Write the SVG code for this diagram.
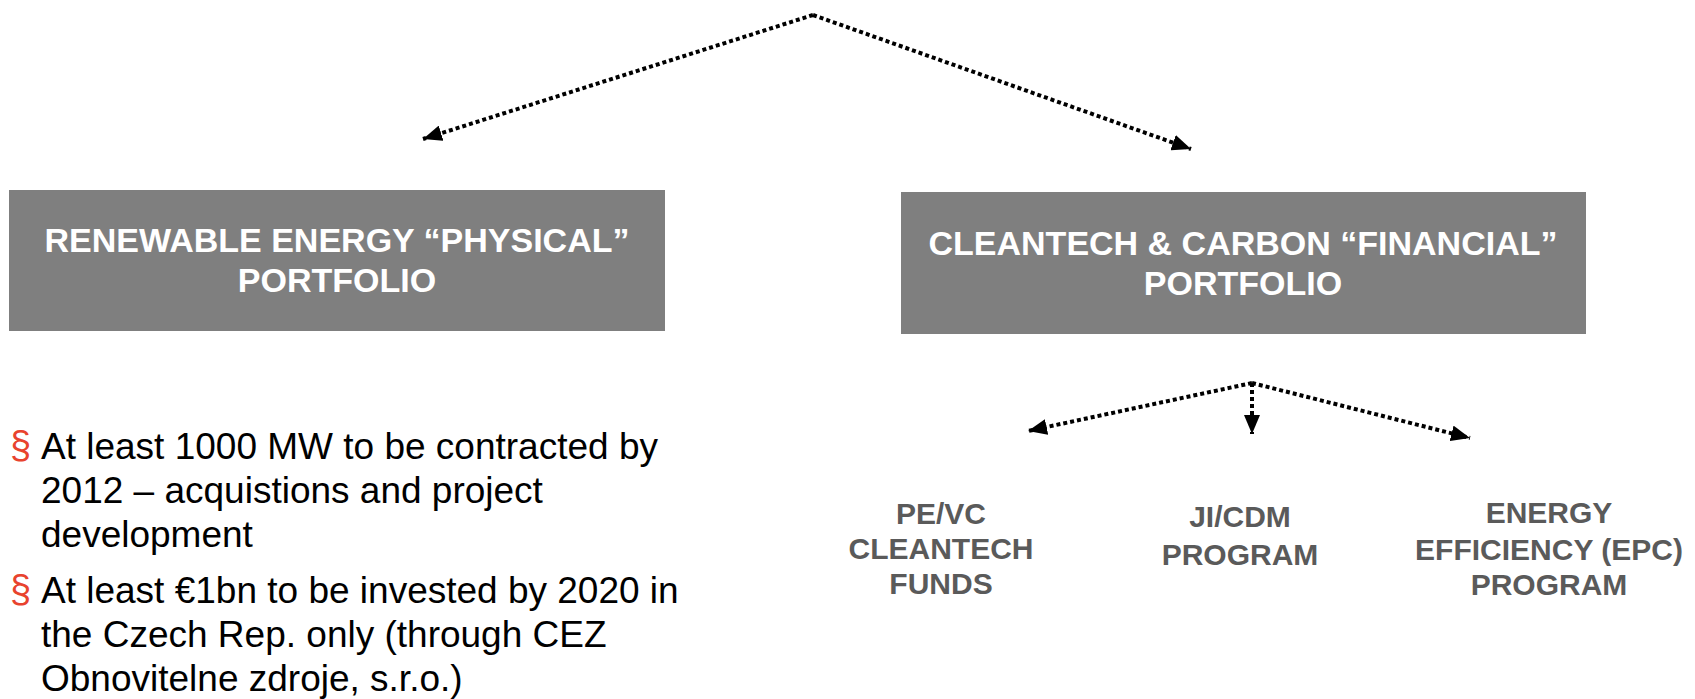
<svg xmlns="http://www.w3.org/2000/svg" width="1695" height="699" viewBox="0 0 1695 699">
<style>
.box{fill:#7f7f7f;}
.title{font-family:"Liberation Sans",Arial,sans-serif;font-weight:bold;font-size:34px;fill:#ffffff;text-anchor:middle;}
.sub{font-family:"Liberation Sans",Arial,sans-serif;font-weight:bold;font-size:30px;fill:#5a5a5a;text-anchor:middle;}
.body{font-family:"Liberation Sans",Arial,sans-serif;font-size:37px;fill:#000000;}
.bullet{font-family:"Liberation Sans",Arial,sans-serif;font-size:38px;fill:#e8432e;}
.conn{fill:none;stroke:#000;stroke-width:4;stroke-dasharray:4 3;marker-end:url(#arrow);}
</style>
<defs>
<marker id="arrow" markerUnits="userSpaceOnUse" markerWidth="20" markerHeight="16" refX="19" refY="8" orient="auto">
<path d="M0,0 L19,8 L0,16 z" fill="#000"/>
</marker>
</defs>
<rect width="1695" height="699" fill="#ffffff"/>
<g id="connectors">
<path class="conn" d="M813,15 L423,139"/>
<path class="conn" d="M813,15 L1191,149"/>
<path class="conn" d="M1252,383 L1028,431"/>
<path class="conn" d="M1252,383 L1252,434"/>
<path class="conn" d="M1252,383 L1470,438"/>
</g>
<g id="node-physical">
<rect class="box" x="9" y="190" width="656" height="141"/>
<text class="title" x="337" y="252">RENEWABLE ENERGY “PHYSICAL”</text>
<text class="title" x="337" y="292">PORTFOLIO</text>
</g>
<g id="node-financial">
<rect class="box" x="901" y="192" width="685" height="142"/>
<text class="title" x="1243" y="255">CLEANTECH &amp; CARBON “FINANCIAL”</text>
<text class="title" x="1243" y="295">PORTFOLIO</text>
</g>
<g id="node-bullets">
<text class="bullet" x="10" y="458">§</text>
<text class="body" x="41" y="459">At least 1000 MW  to be contracted by</text>
<text class="body" x="41" y="503">2012 – acquistions and project</text>
<text class="body" x="41" y="547">development</text>
<text class="bullet" x="10" y="602">§</text>
<text class="body" x="41" y="603">At least €1bn to be invested by 2020 in</text>
<text class="body" x="41" y="647">the Czech Rep. only (through CEZ</text>
<text class="body" x="41" y="691">Obnovitelne zdroje, s.r.o.)</text>
</g>
<g id="node-pevc">
<text class="sub" x="941" y="524">PE/VC</text>
<text class="sub" x="941" y="559">CLEANTECH</text>
<text class="sub" x="941" y="594">FUNDS</text>
</g>
<g id="node-jicdm">
<text class="sub" x="1240" y="527">JI/CDM</text>
<text class="sub" x="1240" y="565">PROGRAM</text>
</g>
<g id="node-epc">
<text class="sub" x="1549" y="523">ENERGY</text>
<text class="sub" x="1549" y="560">EFFICIENCY (EPC)</text>
<text class="sub" x="1549" y="595">PROGRAM</text>
</g>
</svg>
